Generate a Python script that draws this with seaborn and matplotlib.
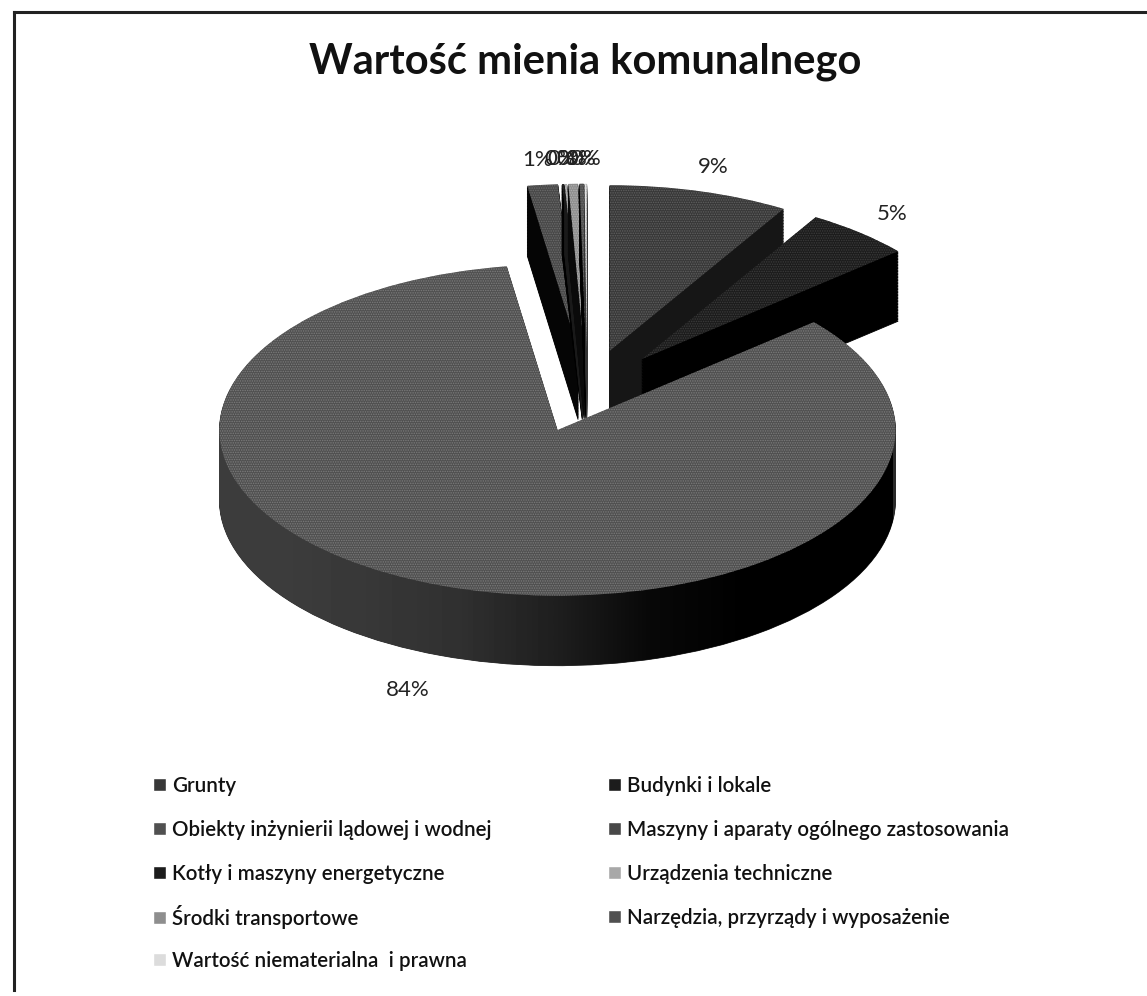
import seaborn as sns
import numpy as np
import matplotlib.pyplot as plt
from matplotlib.patches import Patch
from matplotlib.path import Path
from matplotlib.transforms import IdentityTransform

# Values (percent of total)
categories = ['Grunty', 'Budynki i lokale', 'Obiekty inżynierii lądowej i wodnej',
              'Maszyny i aparaty ogólnego zastosowania', 'Kotły i maszyny energetyczne',
              'Urządzenia techniczne', 'Środki transportowe',
              'Narzędzia, przyrządy i wyposażenie', 'Wartość niematerialna  i prawna']
values = [8.6, 5.1, 83.9, 1.45, 0.1, 0.1, 0.45, 0.2, 0.1]
top_colors = ['#383838', '#1c1c1c', '#505050', '#484848', '#1c1c1c', '#a8a8a8', '#8e8e8e', '#505050', '#dcdcdc']
hatch_colors = ['#606060', '#3c3c3c', '#7c7c7c', '#6c6c6c', '#303030', '#c0c0c0', '#b0b0b0', '#707070', '#eeeeee']
wall_colors = ['#161616', '#000000', '#2a2a2a', '#050505', '#000000', '#1a1a1a', '#0a0a0a', '#000000', '#333333']
draw_order = [3, 4, 5, 6, 7, 8, 0, 1, 2]

# legend rows as they sit in the reference: entry index, x, y (pixels)
legend_left = [0, 2, 4, 6, 8]
legend_right = [1, 3, 5, 7]
rows_left = [786, 830, 874, 917, 961]
rows_right = [786, 830, 874, 918]

W, H = 1147, 996
SQUASH = 0.49
RADIUS = 338
CX, CY = 587, (H - 391) / SQUASH
DEPTH = 70
MAIN = 2

sns.set_theme(style='white')
plt.rcParams['font.family'] = ['Lato', 'DejaVu Sans']
plt.rcParams['hatch.linewidth'] = 0.7

fig = plt.figure(figsize=(W / 100, H / 100), dpi=100, facecolor='white')

# scan frame: only top and left lines
frame = fig.add_axes([14 / W, 6 / H, 1 - 14 / W, (H - 12 - 6) / H])
frame.set_xticks([])
frame.set_yticks([])
for side in ['right', 'bottom']:
    frame.spines[side].set_visible(False)
for side in ['top', 'left']:
    frame.spines[side].set_linewidth(2.2)
    frame.spines[side].set_color('#222222')

ax = fig.add_axes([0, 0, 1, 1])
ax.patch.set_alpha(0)
explode = [85] * len(values)  # pie adds this in data units
rank = {i: n * 10 for n, i in enumerate(draw_order)}

# side walls: stacked copies of the pie, shifted down
main_walls = []
for d in np.arange(DEPTH, 0, -1.5):
    wedges, _ = ax.pie(values, colors=wall_colors, explode=explode, startangle=90, counterclock=False,
                       radius=RADIUS, center=(CX, CY - d / SQUASH), wedgeprops={'linewidth': 0.6})
    for i, w in enumerate(wedges):
        w.set_edgecolor(wall_colors[i])
        w.set_zorder(rank[i] + 1)
    main_walls.append(wedges[MAIN])

# top faces, dotted like the scan's halftone
wedges, _, pct = ax.pie(values, colors=top_colors, explode=explode, startangle=90, counterclock=False,
                        radius=RADIUS, center=(CX, CY), autopct='%.0f%%', pctdistance=1.15,
                        wedgeprops={'linewidth': 0})
for i, w in enumerate(wedges):
    w.set_zorder(rank[i] + 5)
    w.set_edgecolor(hatch_colors[i])
    w.set_hatch('.......')
for t in pct:
    t.set_fontsize(16)
    t.set_color('#222222')
    t.set_zorder(200)

ax.set_aspect('auto')
ax.set_xlim(0, W)
ax.set_ylim(0, H / SQUASH)
ax.set_axis_off()

# main slice: wall goes from grey on the left to black on the right
fig.canvas.draw()
paths = [w.get_path().transformed(w.get_transform()) for w in main_walls]
clip = Path.make_compound_path(*paths)
shade = ax.imshow(np.array([[0.24, 0.22, 0.19, 0.12, 0.03, 0.0, 0.0]]), cmap='gray', vmin=0, vmax=1,
                  extent=(218, 893, 0, H / SQUASH), aspect='auto', interpolation='bilinear',
                  zorder=rank[MAIN] + 2)
shade.set_clip_path(clip, IdentityTransform())
ax.set_xlim(0, W)
ax.set_ylim(0, H / SQUASH)

# 84% sits below the front wall
pct[MAIN].set_position((408, (H - 690) / SQUASH))

fig.text(585 / W, 1 - 62 / H, 'Wartość mienia komunalnego', ha='center', va='center',
         fontsize=30, fontweight='bold', color='#111111')

# one small legend per entry so the rows keep an even step
for idx, rows, x in [(legend_left, rows_left, 153), (legend_right, rows_right, 608)]:
    for i, y in zip(idx, rows):
        handle = Patch(facecolor=top_colors[i], label=categories[i])
        fig.legend(handles=[handle], loc='center left', bbox_to_anchor=(x / W, 1 - y / H),
                   frameon=False, prop={'size': 14.8, 'weight': 'semibold'}, labelcolor='#111111',
                   handlelength=0.62, handleheight=0.62, handletextpad=0.3,
                   borderpad=0, borderaxespad=0)

plt.savefig('out.png', dpi=100)
